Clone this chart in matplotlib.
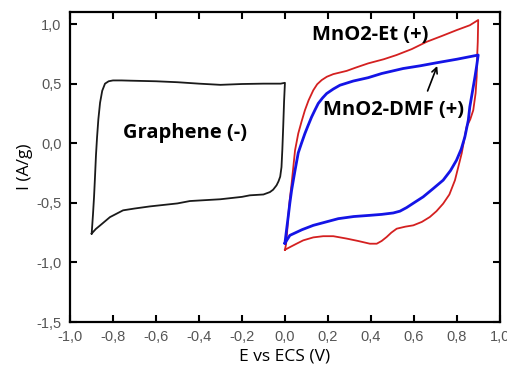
import numpy as np
import matplotlib
matplotlib.use("Agg")
import matplotlib.pyplot as plt
from matplotlib.ticker import FuncFormatter

# graphene (-) loop
graph_x = [-0.899, -0.893, -0.888, -0.884, -0.879, -0.874, -0.868, -0.86, -0.85, -0.837,
           -0.82, -0.8, -0.76, -0.72, -0.6, -0.5, -0.4, -0.3, -0.2, -0.1, -0.02, 0.0,
           -0.004, -0.008, -0.012, -0.016, -0.022, -0.03, -0.039, -0.055, -0.07, -0.1,
           -0.163, -0.2, -0.3, -0.442, -0.5, -0.628, -0.7, -0.753, -0.814, -0.86, -0.88, -0.899]
graph_y = [-0.758, -0.6, -0.45, -0.3, -0.1, 0.05, 0.2, 0.34, 0.44, 0.50,
           0.52, 0.527, 0.527, 0.525, 0.52, 0.512, 0.50, 0.49, 0.497, 0.50, 0.50, 0.507,
           0.35, 0.14, -0.05, -0.2, -0.28, -0.32, -0.353, -0.39, -0.41, -0.43,
           -0.437, -0.45, -0.47, -0.485, -0.505, -0.53, -0.548, -0.563, -0.62, -0.69, -0.72, -0.758]

# MnO2-Et (+)
et_x = [0.0, 0.005, 0.01, 0.015, 0.022, 0.031, 0.039, 0.047, 0.062, 0.077, 0.093, 0.11,
        0.132, 0.15, 0.171, 0.195, 0.225, 0.287, 0.33, 0.387, 0.46, 0.519, 0.59, 0.659,
        0.73, 0.8, 0.86, 0.899, 0.897, 0.894, 0.892, 0.887, 0.876, 0.862, 0.845, 0.822,
        0.791, 0.765, 0.736, 0.705, 0.674, 0.637, 0.597, 0.56, 0.52, 0.495, 0.473, 0.45,
        0.427, 0.395, 0.34, 0.287, 0.225, 0.178, 0.132, 0.085, 0.054, 0.025, 0.0]
et_y = [-0.894, -0.85, -0.75, -0.62, -0.48, -0.34, -0.2, -0.06, 0.082, 0.18, 0.277, 0.36,
        0.445, 0.495, 0.53, 0.558, 0.58, 0.607, 0.635, 0.67, 0.705, 0.74, 0.79, 0.851,
        0.9, 0.95, 0.99, 1.034, 0.85, 0.72, 0.557, 0.42, 0.277, 0.2, 0.137, -0.087,
        -0.31, -0.43, -0.507, -0.57, -0.619, -0.66, -0.689, -0.70, -0.717, -0.75, -0.787, -0.82,
        -0.843, -0.843, -0.82, -0.80, -0.78, -0.78, -0.79, -0.815, -0.843, -0.87, -0.894]

# MnO2-DMF (+)
dmf_x = [0.0, 0.008, 0.015, 0.023, 0.031, 0.047, 0.062, 0.077, 0.093, 0.108, 0.124, 0.14,
         0.155, 0.175, 0.194, 0.225, 0.256, 0.318, 0.387, 0.45, 0.55, 0.63, 0.705, 0.8,
         0.899, 0.892, 0.884, 0.872, 0.86, 0.853, 0.837, 0.82, 0.798, 0.77, 0.736, 0.69,
         0.643, 0.6, 0.566, 0.535, 0.504, 0.45, 0.395, 0.32, 0.248, 0.132, 0.08, 0.023, 0.0]
dmf_y = [-0.838, -0.72, -0.62, -0.5, -0.395, -0.227, -0.08, 0.0, 0.082, 0.15, 0.22, 0.28,
         0.334, 0.38, 0.417, 0.455, 0.487, 0.522, 0.55, 0.585, 0.627, 0.65, 0.675, 0.705,
         0.74, 0.65, 0.557, 0.43, 0.305, 0.193, 0.053, -0.05, -0.143, -0.23, -0.31, -0.38,
         -0.45, -0.5, -0.54, -0.57, -0.585, -0.597, -0.605, -0.615, -0.633, -0.689, -0.725, -0.773, -0.838]

xticks = [-1.0, -0.8, -0.6, -0.4, -0.2, 0.0, 0.2, 0.4, 0.6, 0.8, 1.0]
yticks = [-1.5, -1.0, -0.5, 0.0, 0.5, 1.0]

fig = plt.figure(figsize=(5.07, 3.68), dpi=100)
ax = fig.add_axes([0.138, 0.125, 0.848, 0.842])

ax.plot(graph_x, graph_y, color="#1a1a1a", lw=1.3)
ax.plot(et_x, et_y, color="#d42020", lw=1.3)
ax.plot(dmf_x, dmf_y, color="#1414e6", lw=2.0)

ax.set_xlim(-1.0, 1.0)
ax.set_ylim(-1.5, 1.1)
ax.set_xticks(xticks)
ax.set_yticks(yticks)

comma = FuncFormatter(lambda v, p: f"{v:.1f}".replace(".", ","))
ax.xaxis.set_major_formatter(comma)
ax.yaxis.set_major_formatter(comma)

ax.tick_params(direction="in", length=5, width=1.5, top=True, right=True,
               labelsize=10.5, labelcolor="#555555", pad=6)
for t in ax.get_xticklabels() + ax.get_yticklabels():
    t.set_family(["Liberation Sans", "DejaVu Sans"])
for s in ax.spines.values():
    s.set_linewidth(1.6)

lab = dict(family=["Open Sans", "DejaVu Sans"], fontsize=12.5)
ax.set_xlabel("E vs ECS (V)", labelpad=3, **lab)
ax.set_ylabel("I (A/g)", labelpad=0, **lab)
ax.yaxis.set_label_coords(-0.085, 0.5)

ann = dict(family=["Open Sans", "DejaVu Sans"], fontsize=14.5, fontweight="bold",
           ha="center", va="center")
ax.text(-0.465, 0.083, "Graphene (-)", **ann)
ax.text(0.395, 0.91, "MnO2-Et (+)", **ann)
ax.text(0.507, 0.277, "MnO2-DMF (+)", **ann)
ax.annotate("", xy=(0.713, 0.67), xytext=(0.659, 0.417),
            arrowprops=dict(arrowstyle="->", color="black", lw=1.2))

fig.savefig("out.png", dpi=100)
